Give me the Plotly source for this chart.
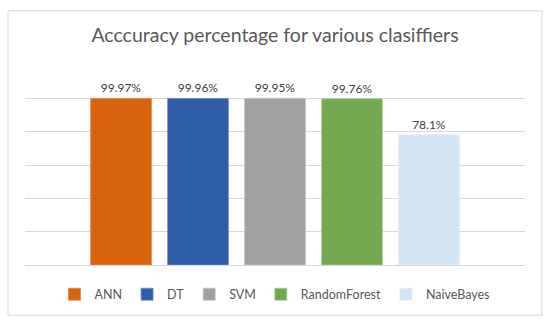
import plotly.graph_objects as go

classifiers = ["ANN", "DT", "SVM", "RandomForest", "NaiveBayes"]
accuracy = [99.97, 99.96, 99.95, 99.76, 78.1]
bar_colors = ["#D8630F", "#305DA9", "#A0A0A0", "#72A94F", "#D3E4F4"]
edge_colors = ["#E8874A", "#6F90C8", "#C4C4C4", "#A9D18E", "#E4EEF8"]
category = [""]

fig = go.Figure()
for name, val, col, edge in zip(classifiers, accuracy, bar_colors, edge_colors):
    fig.add_trace(go.Bar(
        x=category, y=[val], name=name,
        marker=dict(color=col, line=dict(color=edge, width=0.8)),
        text=[f"{val}%"], textposition="outside", cliponaxis=False,
        textfont=dict(family="Lato", size=12, color="#404040"),
    ))

fig.update_layout(
    width=550, height=327,
    margin=dict(l=25, r=25, t=64.5, b=61.5),
    paper_bgcolor="white", plot_bgcolor="white",
    barmode="group", bargap=0.23, bargroupgap=0.21,
    title=dict(text="Acccuracy percentage for various clasiffiers",
               x=0.5, xanchor="center", y=1 - 35 / 327, yanchor="middle",
               font=dict(family="Lato", size=19.5, color="#595959")),
    showlegend=True,
    legend=dict(orientation="h", x=0.5, xanchor="center", y=-0.148, yanchor="middle",
                font=dict(family="Lato", size=12.5, color="#595959"),
                itemwidth=30, traceorder="normal"),
    xaxis=dict(showticklabels=False, showgrid=False, zeroline=False,
               showline=True, linecolor="#D9D9D9", linewidth=1),
    yaxis=dict(range=[0, 120], dtick=20, showticklabels=False,
               showgrid=True, gridcolor="#D9D9D9", gridwidth=1,
               zeroline=True, zerolinecolor="#D9D9D9", zerolinewidth=1),
    shapes=[dict(type="rect", xref="paper", yref="paper",
                 x0=(8 - 25) / 500, x1=(542 - 25) / 500,
                 y0=(265.5 - 316) / 201, y1=(265.5 - 10) / 201,
                 line=dict(color="#D9D9D9", width=1), layer="below")],
)

fig.write_html("out.html", config={"displayModeBar": False},
               post_script="document.body.style.margin='0';")
